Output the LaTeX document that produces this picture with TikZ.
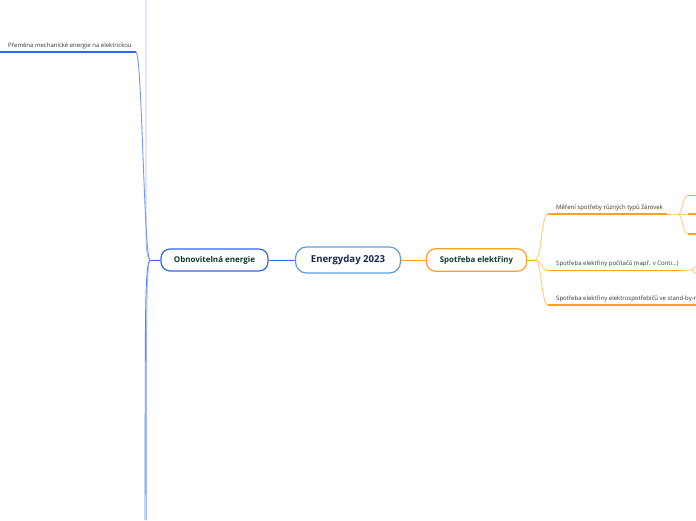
\documentclass[tikz,border=0pt]{standalone}
\usepackage{fontspec}
\setmainfont{Open Sans}
\definecolor{leftblue}{HTML}{2F66F2}
\definecolor{midblue}{HTML}{5C86F7}
\definecolor{lightblue}{HTML}{A2BBFF}
\definecolor{centerblue}{HTML}{5A9FD8}
\definecolor{orange1}{HTML}{FFA21F}
\definecolor{lightorange}{HTML}{FFCC80}
\definecolor{navy}{HTML}{16294A}
\definecolor{darkgreen}{HTML}{0E3B2E}
\definecolor{labelgray}{HTML}{333333}
\begin{document}
\begin{tikzpicture}[x=1pt,y=-1pt,
  topic/.style={draw, rounded corners=9pt, line width=1.2pt, inner sep=0pt, fill=white},
  lbl/.style={font=\fontsize{6}{7}\selectfont, text=labelgray, inner sep=0pt, anchor=base west},
  thickline/.style={line width=1.8pt},
  thinline/.style={line width=0.9pt}]
\useasboundingbox (0,0) rectangle (696,520);
\clip (0,0) rectangle (696,520);

% central topics
\node[topic, draw=centerblue, text=navy, minimum width=105pt, minimum height=26pt, rounded corners=11pt,
      font=\bfseries\fontsize{9.6}{11}\selectfont] (root) at (348,260) {Energyday 2023};
\node[topic, draw=leftblue, text=darkgreen, minimum width=107pt, minimum height=22pt,
      font=\bfseries\fontsize{8}{9}\selectfont] (obn) at (214.5,260) {Obnovitelná energie};
\node[topic, draw=orange1, text=darkgreen, minimum width=100pt, minimum height=22.5pt,
      font=\bfseries\fontsize{7.9}{9}\selectfont] (spo) at (476.5,260) {Spotřeba elektřiny};

\draw[leftblue, line width=1pt] (root.west) -- (obn.east);
\draw[orange1, line width=1pt] (root.east) -- (spo.west);

% ---------- left side ----------
\coordinate (jL) at (150,260);
\coordinate (topEnd) at (146,0);
\coordinate (pR) at (136,52);
\coordinate (pL) at (0,52);
\coordinate (botA) at (145,520);
\coordinate (botB) at (146.5,520);
\draw[leftblue, line width=1pt] (obn.west) -- (jL);
\draw[lightblue, thinline] (jL) .. controls (146.5,258) and (146,248) .. (146,225) -- (topEnd);
\draw[midblue!70!lightblue, thinline] (jL) .. controls (144,260) and (142,52) .. (pR);
\draw[leftblue, thickline] (pR) -- (pL);
\node[lbl] (lblP) at (8,47.5) {Přeměna mechanické energie na elektrickou};
\draw[lightblue, thinline] (jL) .. controls (147.5,262) and (146.5,300) .. (146.5,360) -- (botB);
\draw[midblue, thinline] (jL) .. controls (146,262) and (145.5,300) .. (145.3,360) -- (botA);

% ---------- right side ----------
\coordinate (jR) at (535,260);
\draw[orange1, line width=1pt] (spo.east) -- (jR);

% Mereni
\coordinate (m1) at (548,214);
\coordinate (m1e) at (667,214);
\draw[lightorange, thinline] (jR) .. controls (542,260) and (541,214) .. (m1);
\draw[orange1, thickline] (m1) -- (m1e);
\node[lbl] (lblM) at (556,209.5) {Měření spotřeby různých typů žárovek};
\coordinate (jM) at (678,214);
\draw[lightorange, thinline] (m1e) -- (jM);
\coordinate (s1) at (688,195.5);
\coordinate (s1e) at (696,195.5);
\coordinate (s2) at (688,214);
\coordinate (s2e) at (696,214);
\coordinate (s3) at (688,234);
\coordinate (s3e) at (696,234);
\draw[lightorange, thinline] (jM) .. controls (683,214) and (682,195.5) .. (s1);
\draw[lightorange, thinline] (jM) -- (s2);
\draw[lightorange, thinline] (jM) .. controls (683,214) and (682,234) .. (s3);
\draw[orange1, thickline] (s1) -- (s1e);
\draw[orange1, thickline] (s2) -- (s2e);
\draw[orange1, thickline] (s3) -- (s3e);

% pocitace
\coordinate (c1) at (548,270.5);
\coordinate (c1e) at (681,270.5);
\draw[lightorange, thinline] (jR) .. controls (542,260) and (541,270.5) .. (c1);
\draw[orange1, thickline] (c1) -- (c1e);
\node[lbl] (lblC) at (556,265.5) {Spotřeba elektřiny počítačů (např. v Conti...)};
\coordinate (jC) at (691.5,270);
\coordinate (cu) at (696,266.5);
\coordinate (cd) at (696,273.5);
\draw[lightorange, thinline] (c1e) -- (jC);
\draw[lightorange, thinline] (jC) -- (cu);
\draw[lightorange, thinline] (jC) -- (cd);

% stand-by
\coordinate (d1) at (548,305);
\coordinate (d1e) at (696,305);
\draw[lightorange, thinline] (jR) .. controls (542,260) and (541,305) .. (d1);
\draw[orange1, thickline] (d1) -- (d1e);
\node[lbl] (lblD) at (556,300) {Spotřeba elektřiny elektrospotřebičů ve stand-by-m};
\end{tikzpicture}
\end{document}
